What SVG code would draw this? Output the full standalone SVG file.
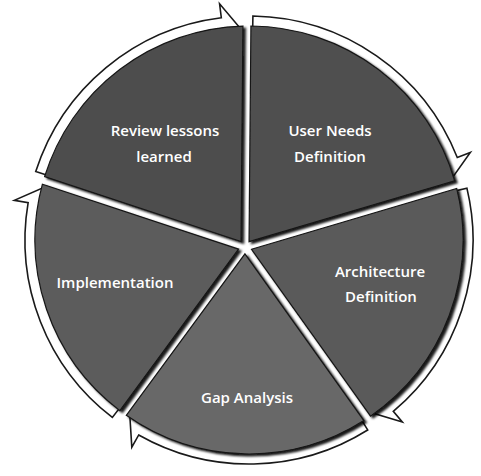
<svg xmlns="http://www.w3.org/2000/svg" width="481" height="476" viewBox="0 0 481 476">
  <defs>
    <filter id="sh" x="-10%" y="-10%" width="120%" height="120%">
      <feDropShadow dx="2.5" dy="2" stdDeviation="0.8" flood-color="#000" flood-opacity="0.9"/>
    </filter>
  </defs>
  <style>
    .wedge { stroke: #161616; stroke-width: 1.2; filter: url(#sh); }
    .arrow { fill: #ffffff; stroke: #1a1a1a; stroke-width: 1.6; stroke-linejoin: miter; }
    .lbl { font-family: "Open Sans", "Liberation Sans", sans-serif; font-size: 15px; font-weight: 600; fill: #ffffff; text-anchor: middle; }
  </style>
  <rect width="481" height="476" fill="#ffffff"/>
  <g id="connectors">
    <path class="arrow" d="M 35.73,171.52 A 224 224 0 0 1 221.31,17.72 L 219.58,3.83 L 238.56,26.26 L 238.70,29.25 A 211 211 0 0 0 48.11,175.50 Z"/>
    <path class="arrow" d="M 252.91,16.03 A 224 224 0 0 1 457.28,157.55 L 470.29,152.39 L 453.33,176.36 L 450.46,177.25 A 211 211 0 0 0 252.68,29.03 Z"/>
    <path class="arrow" d="M 466.91,188.10 A 224 224 0 0 1 393.28,411.34 L 402.30,422.05 L 374.19,413.58 L 372.44,411.14 A 211 211 0 0 0 454.26,191.11 Z"/>
    <path class="arrow" d="M 367.70,429.95 A 224 224 0 0 1 138.70,434.97 L 131.81,447.16 L 129.95,417.83 L 131.62,415.34 A 211 211 0 0 0 360.81,418.93 Z"/>
    <path class="arrow" d="M 112.34,417.48 A 224 224 0 0 1 28.14,202.64 L 14.33,200.30 L 41.27,188.60 L 44.18,189.32 A 211 211 0 0 0 120.27,407.18 Z"/>
  </g>
  <g id="review">
    <path class="wedge" fill="#4e4e4e" d="M 241.05,241.48 L 44.64,176.52 A 214 214 0 0 1 242.93,26.08 Z"/>
    <text class="lbl" x="165" y="136">Review lessons</text>
    <text class="lbl" x="164" y="162">learned</text>
  </g>
  <g id="user-needs">
    <path class="wedge" fill="#505050" d="M 249.05,241.63 L 250.93,26.0 A 214 214 0 0 1 454.62,180.73 Z"/>
    <text class="lbl" x="330" y="136">User Needs</text>
    <text class="lbl" x="330" y="162">Definition</text>
  </g>
  <g id="architecture">
    <path class="wedge" fill="#5a5a5a" d="M 251.51,249.24 L 456.69,188.47 A 214 214 0 0 1 370.55,416.12 Z"/>
    <text class="lbl" x="380" y="277">Architecture</text>
    <text class="lbl" x="381" y="302">Definition</text>
  </g>
  <g id="gap-analysis">
    <path class="wedge" fill="#676767" d="M 244.95,253.82 L 363.88,420.55 A 214 214 0 0 1 126.30,415.34 Z"/>
    <text class="lbl" x="247" y="403">Gap Analysis</text>
  </g>
  <g id="implementation">
    <path class="wedge" fill="#5c5c5c" d="M 238.52,249.07 L 119.85,410.62 A 214 214 0 0 1 42.40,184.21 Z"/>
    <text class="lbl" x="115" y="288">Implementation</text>
  </g>
</svg>
